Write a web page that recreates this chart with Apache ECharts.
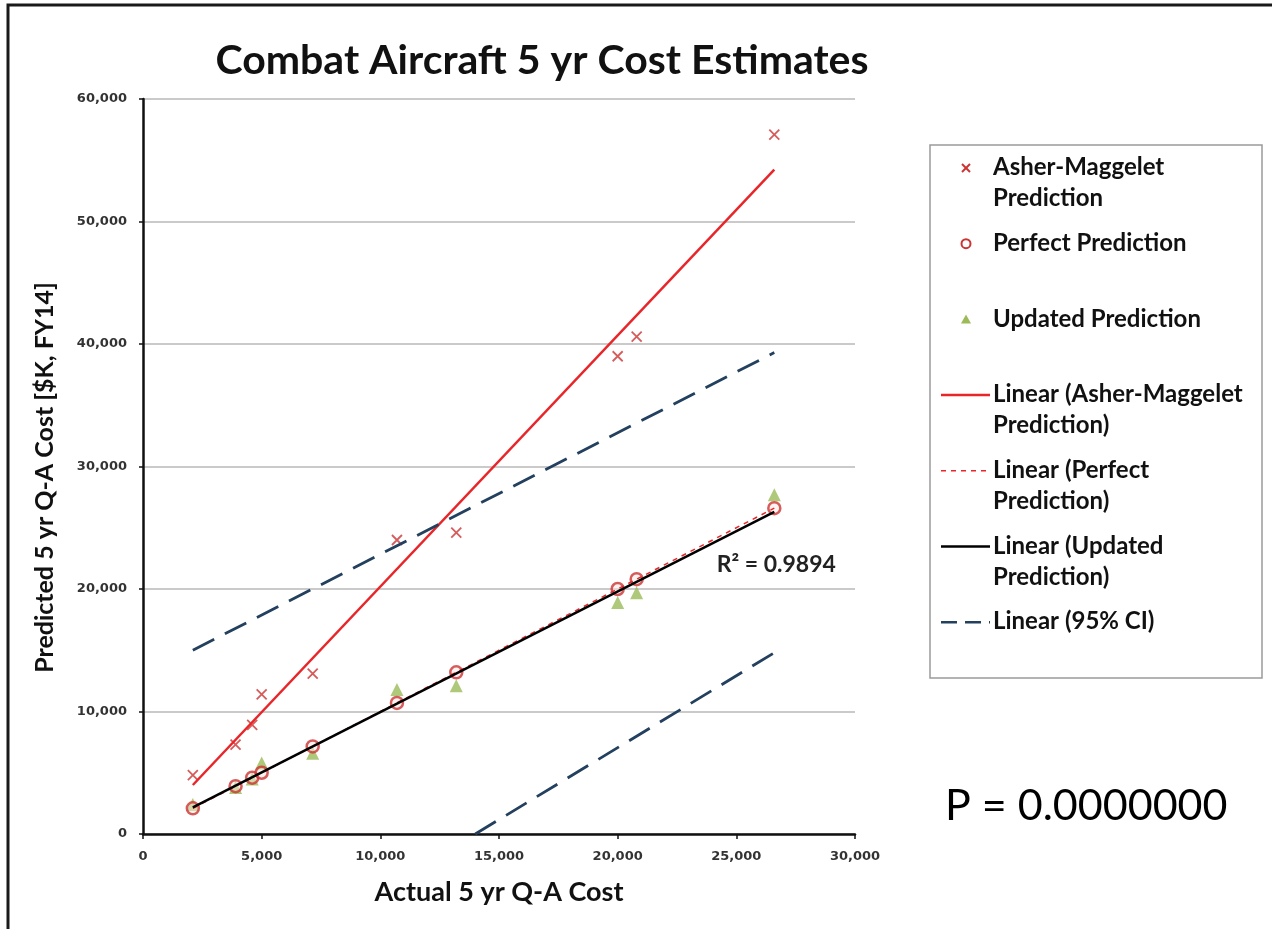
<!DOCTYPE html>
<html>
<head>
<meta charset="utf-8">
<title>Combat Aircraft 5 yr Cost Estimates</title>
<script src="https://cdn.jsdelivr.net/npm/echarts@6/dist/echarts.min.js"></script>
<style>
  html, body { margin: 0; padding: 0; background: #ffffff; }
  #chart { width: 1272px; height: 929px; }
</style>
</head>
<body>
<div id="chart"></div>
<script>
// Actual 5 yr Q-A cost per program ($K, FY14)
const actualCost = [2100, 3900, 4600, 5000, 7150, 10700, 13200, 20000, 20800, 26600];
// Asher-Maggelet predicted cost for the same programs
const asherPrediction = [4800, 7300, 8900, 11400, 13100, 24000, 24600, 39000, 40600, 57100];
// Perfect prediction equals the actual cost
const perfectPrediction = [2100, 3900, 4600, 5000, 7150, 10700, 13200, 20000, 20800, 26600];
// Updated model prediction
const updatedPrediction = [2400, 3800, 4500, 5800, 6600, 11800, 12100, 18900, 19700, 27700];
// 95% confidence bounds (end points of each dashed line)
const ciUpper = [[2100, 15000], [26600, 39300]];
const ciLower = [[14000, 0], [26600, 14800]];

const rSquaredText = 'R² = 0.9894';
const pValueText = 'P = 0.0000000';

const legendLabels = [
  'Asher-Maggelet\nPrediction',
  'Perfect Prediction',
  'Updated Prediction',
  'Linear (Asher-Maggelet\nPrediction)',
  'Linear (Perfect\nPrediction)',
  'Linear (Updated\nPrediction)',
  'Linear (95% CI)'
];

// Least-squares line through (xs, ys), returned as its two end points
function linearFit(xs, ys) {
  const n = xs.length;
  const mx = xs.reduce((a, b) => a + b, 0) / n;
  const my = ys.reduce((a, b) => a + b, 0) / n;
  let sxy = 0, sxx = 0;
  for (let i = 0; i < n; i++) {
    sxy += (xs[i] - mx) * (ys[i] - my);
    sxx += (xs[i] - mx) * (xs[i] - mx);
  }
  const slope = sxy / sxx;
  const icpt = my - slope * mx;
  const x0 = Math.min(...xs), x1 = Math.max(...xs);
  return [[x0, icpt + slope * x0], [x1, icpt + slope * x1]];
}

const pairs = (xs, ys) => xs.map((x, i) => [x, ys[i]]);

const RED = '#e8262a';
const MARK_RED = '#cc3333';
const GREEN = '#9bbb59';
const NAVY = '#23405e';
const LABEL_FONT = 'Lato';

const crossPath = 'path://M0,0L10,10M10,0L0,10';

const chart = echarts.init(document.getElementById('chart'));

// Custom legend entries, one row per series
const legendGraphics = [];
const legendX = 966, legendTextX = 993, rowTop = 168, rowStep = 75.7;
legendLabels.forEach((label, i) => {
  const cy = rowTop + i * rowStep;
  let sym;
  if (i === 0) {
    sym = { type: 'group', children: [
      { type: 'line', shape: { x1: legendX - 4, y1: cy - 4, x2: legendX + 4, y2: cy + 4 }, style: { stroke: MARK_RED, lineWidth: 2 } },
      { type: 'line', shape: { x1: legendX + 4, y1: cy - 4, x2: legendX - 4, y2: cy + 4 }, style: { stroke: MARK_RED, lineWidth: 2 } }
    ] };
  } else if (i === 1) {
    sym = { type: 'circle', shape: { cx: legendX, cy: cy, r: 4.5 }, style: { fill: '#fff', stroke: MARK_RED, lineWidth: 2 } };
  } else if (i === 2) {
    sym = { type: 'polygon', shape: { points: [[legendX, cy - 5], [legendX + 5, cy + 4], [legendX - 5, cy + 4]] }, style: { fill: GREEN } };
  } else {
    const styles = [
      { stroke: RED, lineWidth: 2.5 },
      { stroke: RED, lineWidth: 1.5, lineDash: [5, 5] },
      { stroke: '#000', lineWidth: 2.5 },
      { stroke: NAVY, lineWidth: 2.5, lineDash: [16, 8] }
    ];
    sym = { type: 'line', shape: { x1: 941, y1: cy, x2: 990, y2: cy }, style: styles[i - 3] };
  }
  legendGraphics.push(sym);
  legendGraphics.push({
    type: 'text', left: legendTextX, top: cy - 16,
    style: { text: label, fill: '#111', font: 'bold 24px "' + LABEL_FONT + '"', lineHeight: 31 }
  });
});

const option = {
  animation: false,
  backgroundColor: '#ffffff',
  title: {
    text: 'Combat Aircraft 5 yr Cost Estimates',
    left: 537, top: 35, textAlign: 'center',
    textStyle: { fontFamily: LABEL_FONT, fontWeight: 'bold', fontSize: 41, color: '#111' }
  },
  grid: { left: 143, right: 417, top: 99, bottom: 95, containLabel: false },
  xAxis: {
    type: 'value', min: 0, max: 30000, interval: 5000,
    name: 'Actual 5 yr Q-A Cost', nameLocation: 'middle', nameGap: 45,
    nameTextStyle: { fontFamily: LABEL_FONT, fontWeight: 'bold', fontSize: 27, color: '#111' },
    axisLine: { lineStyle: { color: '#111', width: 2.5 } },
    axisTick: { show: true, length: 5, lineStyle: { color: '#111', width: 1.5 } },
    axisLabel: { margin: 16, fontFamily: 'DejaVu Sans', fontWeight: 'bold', fontSize: 13, color: '#333' },
    splitLine: { show: false }
  },
  yAxis: {
    type: 'value', min: 0, max: 60000, interval: 10000,
    name: 'Predicted 5 yr Q-A Cost [$K, FY14]', nameLocation: 'middle', nameGap: 86,
    nameTextStyle: { fontFamily: LABEL_FONT, fontWeight: 'bold', fontSize: 25, color: '#111', padding: [0, 22, 0, 0] },
    axisLine: { show: true, lineStyle: { color: '#111', width: 2.5 } },
    axisTick: { show: true, length: 4, lineStyle: { color: '#111', width: 1.5 } },
    axisLabel: { margin: 16, fontFamily: 'DejaVu Sans', fontWeight: 'bold', fontSize: 13, color: '#333' },
    splitLine: { show: true, lineStyle: { color: '#b8b8b8', width: 1.5 } }
  },
  series: [
    {
      name: 'Asher-Maggelet Prediction', type: 'scatter', z: 3,
      data: pairs(actualCost, asherPrediction),
      symbol: crossPath, symbolSize: 10,
      itemStyle: { color: 'rgba(0,0,0,0)', borderColor: MARK_RED, borderWidth: 1.8 }
    },
    {
      name: 'Perfect Prediction', type: 'scatter', z: 3,
      data: pairs(actualCost, perfectPrediction),
      symbol: 'circle', symbolSize: 12,
      itemStyle: { color: 'rgba(255,230,225,0.6)', borderColor: MARK_RED, borderWidth: 2.5 }
    },
    {
      name: 'Updated Prediction', type: 'scatter', z: 2,
      data: pairs(actualCost, updatedPrediction),
      symbol: 'triangle', symbolSize: 13,
      itemStyle: { color: GREEN }
    },
    {
      name: 'Linear (Asher-Maggelet Prediction)', type: 'line', z: 4,
      data: linearFit(actualCost, asherPrediction), symbol: 'none',
      lineStyle: { color: RED, width: 2.5 }
    },
    {
      name: 'Linear (Perfect Prediction)', type: 'line', z: 4,
      data: linearFit(actualCost, perfectPrediction), symbol: 'none',
      lineStyle: { color: RED, width: 1.5, type: [5, 5] }
    },
    {
      name: 'Linear (Updated Prediction)', type: 'line', z: 5,
      data: linearFit(actualCost, updatedPrediction), symbol: 'none',
      lineStyle: { color: '#000', width: 2.5 },
      markPoint: {
        symbol: 'rect', symbolSize: 0,
        data: [{ coord: [26600, 22000], value: rSquaredText }],
        label: { show: true, position: 'inside', formatter: rSquaredText, offset: [2, 0],
          fontFamily: LABEL_FONT, fontWeight: 'bold', fontSize: 23, color: '#222' }
      }
    },
    {
      name: 'Linear (95% CI)', type: 'line', z: 4,
      data: ciUpper, symbol: 'none',
      lineStyle: { color: NAVY, width: 2.8, type: [24, 12] }
    },
    {
      name: 'Linear (95% CI) lower', type: 'line', z: 4,
      data: ciLower, symbol: 'none',
      lineStyle: { color: NAVY, width: 2.8, type: [24, 12] }
    }
  ],
  graphic: [
    { type: 'rect', shape: { x: 8, y: 5, width: 1400, height: 1100 }, style: { fill: 'none', stroke: '#1a1a1a', lineWidth: 3 }, silent: true },
    { type: 'rect', shape: { x: 930, y: 145, width: 332, height: 533 }, style: { fill: 'none', stroke: '#9a9a9a', lineWidth: 1.5 }, silent: true },
    ...legendGraphics,
    { type: 'text', left: 945, top: 785, style: { text: pValueText, fill: '#000', font: '43px "' + LABEL_FONT + '"' } }
  ]
};

chart.setOption(option);
</script>
</body>
</html>
